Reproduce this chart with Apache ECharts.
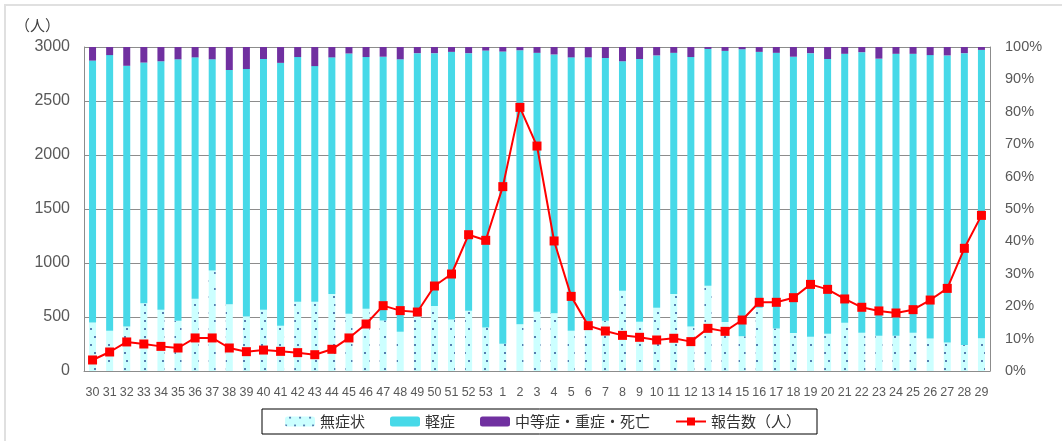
<!DOCTYPE html>
<html>
<head>
<meta charset="utf-8">
<script src="https://cdn.jsdelivr.net/npm/echarts@6/dist/echarts.min.js"></script>
<style>
html,body{margin:0;padding:0;background:#fff;}
#chart{width:1062px;height:441px;}
</style>
</head>
<body>
<div id="chart"></div>
<script>
// Week labels
var weeks = ['30','31','32','33','34','35','36','37','38','39','40','41','42','43','44','45','46','47','48','49','50','51','52','53',
  '1','2','3','4','5','6','7','8','9','10','11','12','13','14','15','16','17','18','19','20','21','22','23','24','25','26','27','28','29'];

// Share of cases (%) - 無症状
var asymptomatic = [15.0,12.4,13.7,20.9,18.9,15.5,22.3,31.0,20.6,16.8,18.9,14.0,21.4,21.4,23.8,17.7,19.2,15.6,12.1,16.8,20.1,15.9,18.6,13.4,
  8.4,14.4,18.3,17.8,12.4,15.4,15.5,24.8,15.2,19.5,23.8,13.7,26.3,15.1,10.7,19.5,13.1,11.7,10.6,11.5,14.9,11.8,10.9,10.9,11.8,10.0,8.8,8.0,10.1];

// Share of cases (%) - 軽症
var mild = [80.8,85.1,80.5,74.3,76.7,80.7,74.5,65.2,72.3,76.4,77.4,81.1,75.5,72.7,73.0,80.3,77.7,81.4,84.1,81.3,78.0,82.6,79.5,85.5,
  90.2,84.6,79.9,79.9,84.4,81.4,81.1,70.8,81.1,77.9,74.4,83.2,73.1,83.7,88.6,79.0,85.1,85.3,87.5,84.8,83.0,86.6,85.5,87.0,86.1,87.5,88.6,90.1,89.0];

// Share of cases (%) - 中等症・重症・死亡
var severe = [4.2,2.5,5.8,4.8,4.4,3.8,3.2,3.8,7.1,6.8,3.7,4.9,3.1,5.9,3.2,2.0,3.1,3.0,3.8,1.9,1.9,1.5,1.9,1.1,
  1.4,1.0,1.8,2.3,3.2,3.2,3.4,4.4,3.7,2.6,1.8,3.1,0.6,1.2,0.7,1.5,1.8,3.0,1.9,3.7,2.1,1.6,3.6,2.1,2.1,2.5,2.6,1.9,0.9];

// 報告数（人）
var reports = [102,176,269,250,228,213,306,306,213,179,194,182,170,151,201,306,435,605,559,546,787,898,1262,1210,
  1707,2441,2083,1204,691,420,370,330,312,287,303,272,395,367,472,636,636,679,802,756,667,590,556,537,568,657,765,1136,1441];

var leftTicks = {min:0, max:3000, interval:500};
var rightTicks = {min:0, max:100, interval:10};

var chart = echarts.init(document.getElementById('chart'), null, {renderer:'canvas'});
var gray = '#595959';
var lineGray = '#8c8c8c';
var option = {
  animation:false,
  backgroundColor:'#fff',
  graphic:[
    {type:'rect', shape:{x:5,y:5,width:1100,height:500}, style:{fill:'none', stroke:'#e0e0e0', lineWidth:2}, silent:true},
    {type:'text', left:15, top:18, style:{text:'（人）', fill:'#404040', font:'15px "Noto Sans CJK JP"'}}
  ],
  grid:{left:84, right:72, top:47, bottom:70},
  legend:{
    left:262, top:409,
    itemWidth:30, itemHeight:10, itemGap:25,
    padding:[5,16,5,23],
    borderColor:'#000', borderWidth:1,
    textStyle:{fontSize:15, color:'#333', fontFamily:'Noto Sans CJK JP'},
    data:['無症状','軽症','中等症・重症・死亡','報告数（人）']
  },
  xAxis:{
    type:'category', data:weeks,
    axisLine:{show:true, lineStyle:{color:lineGray, width:1}},
    axisTick:{show:false},
    axisLabel:{interval:0, color:gray, fontSize:12.5, fontFamily:'Liberation Sans', margin:15}
  },
  yAxis:[
    {type:'value', min:leftTicks.min, max:leftTicks.max, interval:leftTicks.interval,
     axisLine:{show:true, lineStyle:{color:lineGray}},
     axisTick:{show:false},
     splitLine:{show:true, lineStyle:{color:lineGray, width:1}},
     axisLabel:{color:gray, fontSize:16, fontFamily:'Liberation Sans', margin:14,
       formatter:function(v){return String(v);}}},
    {type:'value', min:rightTicks.min, max:rightTicks.max, interval:rightTicks.interval, position:'right',
     axisLine:{show:true, lineStyle:{color:lineGray}},
     axisTick:{show:false},
     splitLine:{show:false},
     axisLabel:{color:gray, fontSize:14.5, fontFamily:'Liberation Sans', margin:15, formatter:'{value}%'}}
  ],
  series:[
    {name:'無症状', type:'bar', stack:'pct', yAxisIndex:1, barWidth:7, data:asymptomatic,
     itemStyle:{color:'#ccffff', decal:{symbol:'circle', symbolSize:1, color:'#2f5597',
       dashArrayX:[[1.6,6.4],[0,3.2,1.6,3.2]], dashArrayY:[1.6,6]}}},
    {name:'軽症', type:'bar', stack:'pct', yAxisIndex:1, barWidth:7, data:mild,
     itemStyle:{color:'#47d9e8'}},
    {name:'中等症・重症・死亡', type:'bar', stack:'pct', yAxisIndex:1, barWidth:7, data:severe,
     itemStyle:{color:'#7030a0'}},
    {name:'報告数（人）', type:'line', yAxisIndex:0, data:reports, z:5,
     symbol:'rect', symbolSize:9, lineStyle:{color:'#ff0000', width:2},
     itemStyle:{color:'#ff0000'}}
  ]
};
chart.setOption(option);
</script>
</body>
</html>
